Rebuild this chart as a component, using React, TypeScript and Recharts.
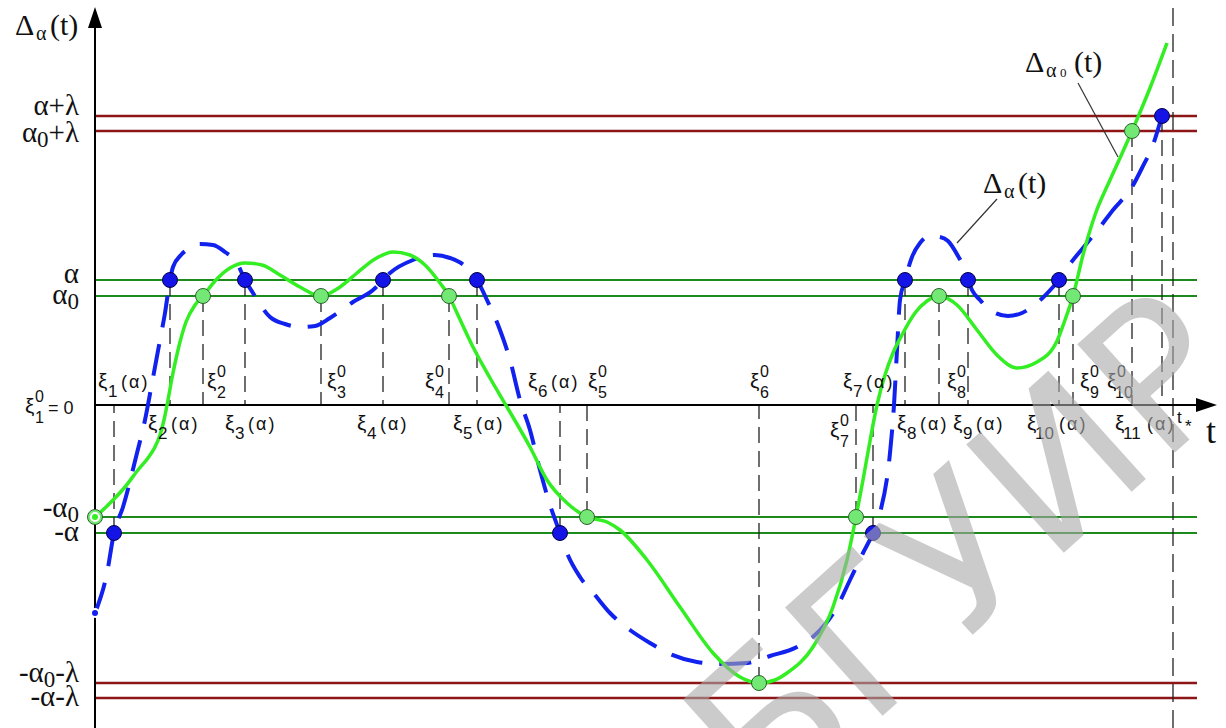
import React from 'react';
import {
  ComposedChart,
  Line,
  Scatter,
  XAxis,
  YAxis,
  ReferenceLine,
  ReferenceDot,
} from 'recharts';

// threshold levels (Δ units, t-axis at 0)
const ALPHA = 125;
const ALPHA0 = 109;
const ALPHA_LAMBDA = 289;
const ALPHA0_LAMBDA = 274;
const NEG_ALPHA0 = -112;
const NEG_ALPHA = -128;
const NEG_ALPHA0_LAMBDA = -278;
const NEG_ALPHA_LAMBDA = -293;
const T_STAR = 1078;
const T_END = 1102;

// Δα0(t) – green solid curve
const GREEN_T = [
  0, 10, 20, 30, 43, 53, 60, 65, 69, 73, 77, 83, 91, 100, 108, 120, 135, 150, 167, 185, 205,
  226, 245, 262, 280, 298, 315, 330, 345, 354, 362, 378, 395, 412, 435, 452, 472, 492, 512,
  525, 552, 585, 618, 645, 664, 680, 692, 718, 738, 752, 761, 768, 775, 782, 790, 798, 808,
  820, 832, 844, 862, 882, 902, 922, 942, 962, 970, 978, 988, 1000, 1015, 1025, 1037, 1055, 1072,
];
const GREEN_D = [
  -112, -103, -93, -82, -65, -53, -42, -30, -15, 5, 27, 55, 83, 100, 109, 124, 137, 142, 140,
  130, 118, 109, 118, 132, 146, 153, 150, 140, 122, 109, 92, 58, 27, -2, -42, -75, -98, -112,
  -117, -125, -155, -202, -248, -272, -278, -275, -268, -242, -202, -155, -112, -75, -36, 0,
  30, 52, 72, 92, 104, 109, 100, 75, 50, 37, 43, 64, 85, 109, 150, 190, 225, 247, 274, 317, 362,
];

// Δα(t) – blue dashed curve
const BLUE_T = [
  0, 12, 19, 28, 42, 50, 57, 65, 70, 75, 78, 86, 95, 105, 118, 130, 142, 150, 158, 175, 190,
  205, 220, 235, 258, 278, 288, 295, 318, 340, 355, 370, 382, 392, 405, 415, 425, 435, 445,
  455, 465, 472, 485, 500, 515, 535, 555, 575, 602, 625, 652, 675, 702, 720, 742, 755, 768,
  778, 785, 795, 799, 802, 805, 810, 817, 825, 835, 845, 853, 863, 870, 873, 877, 885, 895,
  913, 927, 942, 958, 964, 975, 988, 1005, 1018, 1037, 1047, 1059, 1067, 1073,
];
const BLUE_D = [
  -208, -168, -128, -102, -48, -15, 22, 65, 92, 125, 138, 150, 157, 161, 160, 153, 142, 125,
  112, 88, 81, 78, 79, 87, 103, 115, 125, 132, 145, 150, 147, 139, 125, 105, 75, 45, 5, -25,
  -65, -100, -128, -148, -172, -190, -208, -225, -238, -249, -257, -259, -258, -251, -242,
  -230, -202, -175, -148, -128, -108, -48, 0, 55, 105, 125, 148, 162, 169, 168, 164, 149, 135,
  125, 115, 105, 95, 89, 92, 102, 118, 125, 141, 157, 178, 195, 218, 237, 263, 289, 307,
];

// crossing points ξk^0 (green) and ξk(α) (blue)
const XI0_T = [0, 108, 226, 354, 492, 664, 761, 844, 978, 1037];
const XI0_D = [NEG_ALPHA0, ALPHA0, ALPHA0, ALPHA0, NEG_ALPHA0, NEG_ALPHA0_LAMBDA, NEG_ALPHA0, ALPHA0, ALPHA0, ALPHA0_LAMBDA];
const XIA_T = [19, 75, 150, 288, 382, 465, 778, 810, 873, 964, 1067];
const XIA_D = [NEG_ALPHA, ALPHA, ALPHA, ALPHA, ALPHA, NEG_ALPHA, NEG_ALPHA, ALPHA, ALPHA, ALPHA, ALPHA_LAMBDA];

const greenData = GREEN_T.map((t, i) => ({ t, d: GREEN_D[i] }));
const blueData = BLUE_T.map((t, i) => ({ t, d: BLUE_D[i] }));
const greenMarks = XI0_T.map((t, i) => ({ t, d: XI0_D[i] }));
const blueMarks = XIA_T.map((t, i) => ({ t, d: XIA_D[i] }));

const SERIF = '"Liberation Serif", "Times New Roman", serif';
const SANS = '"Liberation Sans", Arial, sans-serif';
const INK = '#111';

// label placement (pixels relative to the crossing point on the t axis)
const XIA_LABEL = [
  { dx: -16, above: true },
  { dx: -22, above: false },
  { dx: -20, above: false },
  { dx: -26, above: false },
  { dx: -24, above: false },
  { dx: -32, above: true },
  { dx: -30, above: true },
  { dx: -8, above: false },
  { dx: -15, above: false },
  { dx: -32, above: false },
  { dx: -47, above: false },
];
const XI0_LABEL = [
  null,
  { dx: 4, above: true },
  { dx: 6, above: true },
  { dx: -24, above: true },
  { dx: 1, above: true },
  { dx: -9, above: true },
  { dx: -26, above: false },
  { dx: 8, above: true },
  { dx: 7, above: true },
  { dx: -25, above: true },
];

type Part = [string, boolean];
const LEVEL_LABELS: { parts: Part[]; level: number; dy: number }[] = [
  { parts: [['α+λ', false]], level: ALPHA_LAMBDA, dy: -1 },
  { parts: [['α', false], ['0', true], ['+λ', false]], level: ALPHA0_LAMBDA, dy: 11 },
  { parts: [['α', false]], level: ALPHA, dy: 3 },
  { parts: [['α', false], ['0', true]], level: ALPHA0, dy: 8 },
  { parts: [['-α', false], ['0', true]], level: NEG_ALPHA0, dy: 0 },
  { parts: [['-α', false]], level: NEG_ALPHA, dy: 8 },
  { parts: [['-α', false], ['0', true], ['-λ', false]], level: NEG_ALPHA0_LAMBDA, dy: -1 },
  { parts: [['-α-λ', false]], level: NEG_ALPHA_LAMBDA, dy: 8 },
];

function Rich({ x, y, parts }: { x: number; y: number; parts: Part[] }) {
  let cur = 0;
  return (
    <text x={x} y={y} textAnchor="end" fontFamily={SERIF} fontSize={29} fill={INK}>
      {parts.map(([s, sub], i) => {
        const target = sub ? 5 : 0;
        const dy = target - cur;
        cur = target;
        return (
          <tspan key={i} dy={dy} fontSize={sub ? 23 : 29}>
            {s}
          </tspan>
        );
      })}
    </text>
  );
}

function DeltaLabel({ x, y, zero }: { x: number; y: number; zero?: boolean }) {
  return (
    <g fontFamily={SERIF} fill={INK}>
      <text x={x} y={y} fontSize={30}>Δ</text>
      <text x={x + 21} y={y + 5} fontSize={20}>α</text>
      {zero && <text x={x + 35} y={y + 5} fontSize={13}>0</text>}
      <text x={x + (zero ? 49 : 35)} y={y} fontSize={30}>(t)</text>
    </g>
  );
}

function XiAlpha({ x, y, n }: { x: number; y: number; n: string }) {
  const two = n.length > 1;
  return (
    <g fontFamily={SANS} fill={INK}>
      <text x={x} y={y} fontSize={21}>ξ</text>
      <text x={x + (two ? 8 : 10)} y={y + 9} fontSize={17}>{n}</text>
      <text x={x + (two ? 32 : 23)} y={y} fontSize={18} letterSpacing={2}>(α)</text>
    </g>
  );
}

function XiZero({ x, y, n }: { x: number; y: number; n: string }) {
  const two = n.length > 1;
  return (
    <g fontFamily={SANS} fill={INK}>
      <text x={x} y={y} fontSize={21}>ξ</text>
      <text x={x + 10} y={y - 11} fontSize={16}>0</text>
      <text x={x + (two ? 8 : 10)} y={y + 10} fontSize={16}>{n}</text>
    </g>
  );
}

const GreenDot = (p: any) => (
  <circle cx={p.cx} cy={p.cy} r={7.5} fill="#74e874" stroke="#2f5f2f" strokeWidth={1} />
);
const BlueDot = (p: any) => (
  <circle cx={p.cx} cy={p.cy} r={7.5} fill="#1414e6" stroke="#00004a" strokeWidth={1} />
);

const RED = '#8e1616';
const GREEN_LINE = '#1c8a1c';
const DROP = { stroke: '#222', strokeWidth: 1.3, strokeDasharray: '16 8' };

export default function App() {
  return (
    <div style={{ position: 'absolute', left: 0, top: 0, width: 1226, height: 728, background: '#fff' }}>
      <ComposedChart width={1226} height={728} margin={{ top: 0, right: 0, bottom: 0, left: 0 }}>
        <XAxis type="number" dataKey="t" domain={[-95, 1131]} allowDataOverflow hide />
        <YAxis type="number" dataKey="d" domain={[-323, 405]} allowDataOverflow hide />

        {/* threshold levels */}
        {[ALPHA_LAMBDA, ALPHA0_LAMBDA, NEG_ALPHA0_LAMBDA, NEG_ALPHA_LAMBDA].map((v) => (
          <ReferenceLine key={'r' + v} segment={[{ x: 0, y: v }, { x: T_END, y: v }]} stroke={RED} strokeWidth={2.5} ifOverflow="visible" />
        ))}
        {[ALPHA, ALPHA0, NEG_ALPHA0, NEG_ALPHA].map((v) => (
          <ReferenceLine key={'g' + v} segment={[{ x: 0, y: v }, { x: T_END, y: v }]} stroke={GREEN_LINE} strokeWidth={2} ifOverflow="visible" />
        ))}

        {/* drop lines from crossing points to the t axis */}
        {greenMarks.filter((m) => m.t > 0).map((m) => (
          <ReferenceLine key={'dg' + m.t} segment={[{ x: m.t, y: m.d }, { x: m.t, y: 0 }]} {...DROP} ifOverflow="visible" />
        ))}
        {blueMarks.map((m) => (
          <ReferenceLine key={'db' + m.t} segment={[{ x: m.t, y: m.d }, { x: m.t, y: 0 }]} {...DROP} ifOverflow="visible" />
        ))}
        <ReferenceLine segment={[{ x: T_STAR, y: -323 }, { x: T_STAR, y: 405 }]} stroke="#222" strokeWidth={1.3} strokeDasharray="18 8" ifOverflow="visible" />

        {/* axes */}
        <ReferenceLine segment={[{ x: 0, y: -323 }, { x: 0, y: 392 }]} stroke="#000" strokeWidth={2} ifOverflow="visible" />
        <ReferenceLine segment={[{ x: 0, y: 0 }, { x: 1108, y: 0 }]} stroke="#000" strokeWidth={2} ifOverflow="visible" />
        <ReferenceDot x={0} y={398} r={0} ifOverflow="visible"
          shape={(p: any) => <polygon points={`${p.cx},${p.cy} ${p.cx - 7},${p.cy + 21} ${p.cx + 7},${p.cy + 21}`} fill="#000" />} />
        <ReferenceDot x={1122} y={0} r={0} ifOverflow="visible"
          shape={(p: any) => <polygon points={`${p.cx},${p.cy} ${p.cx - 21},${p.cy - 7} ${p.cx - 21},${p.cy + 7}`} fill="#000" />} />

        {/* leader lines */}
        <ReferenceLine segment={[{ x: 902, y: 206 }, { x: 862, y: 162 }]} stroke="#333" strokeWidth={1.2} ifOverflow="visible" />
        <ReferenceLine segment={[{ x: 983, y: 322 }, { x: 1023, y: 248 }]} stroke="#333" strokeWidth={1.2} ifOverflow="visible" />

        <Line data={blueData} dataKey="d" type="monotoneX" stroke="#1122ee" strokeWidth={4} strokeDasharray="32 17" dot={false} isAnimationActive={false} />
        <Line data={greenData} dataKey="d" type="monotoneX" stroke="#33ee22" strokeWidth={3.5} dot={false} isAnimationActive={false} />

        <Scatter data={blueMarks} shape={BlueDot} isAnimationActive={false} />
        <Scatter data={greenMarks} shape={GreenDot} isAnimationActive={false} />

        {/* level labels on the left */}
        {LEVEL_LABELS.map((l, i) => (
          <ReferenceDot key={'ll' + i} x={-16} y={l.level} r={0} ifOverflow="visible"
            shape={(p: any) => <Rich x={p.cx} y={p.cy + l.dy} parts={l.parts} />} />
        ))}

        {/* ξ labels */}
        {XIA_T.map((t, i) => (
          <ReferenceDot key={'xa' + i} x={t} y={0} r={0} ifOverflow="visible"
            shape={(p: any) => (
              <XiAlpha x={p.cx + XIA_LABEL[i].dx} y={p.cy + (XIA_LABEL[i].above ? -17 : 25)} n={String(i + 1)} />
            )} />
        ))}
        {XI0_T.map((t, i) =>
          XI0_LABEL[i] ? (
            <ReferenceDot key={'x0' + i} x={t} y={0} r={0} ifOverflow="visible"
              shape={(p: any) => (
                <XiZero x={p.cx + XI0_LABEL[i]!.dx} y={p.cy + (XI0_LABEL[i]!.above ? -17 : 32)} n={String(i + 1)} />
              )} />
          ) : null
        )}
        <ReferenceDot x={0} y={0} r={0} ifOverflow="visible"
          shape={(p: any) => (
            <g fontFamily={SANS} fill={INK}>
              <XiZero x={p.cx - 70} y={p.cy + 8} n="1" />
              <text x={p.cx - 47} y={p.cy + 9} fontSize={18}>= 0</text>
            </g>
          )} />
        <ReferenceDot x={T_STAR} y={0} r={0} ifOverflow="visible"
          shape={(p: any) => (
            <g fontFamily={SANS} fill={INK}>
              <text x={p.cx + 4} y={p.cy + 18} fontSize={17}>t</text>
              <text x={p.cx + 12} y={p.cy + 27} fontSize={17}>*</text>
            </g>
          )} />
        <ReferenceDot x={1111} y={0} r={0} ifOverflow="visible"
          shape={(p: any) => <text x={p.cx} y={p.cy + 38} fontFamily={SERIF} fontSize={36} fill={INK}>t</text>} />

        {/* curve names */}
        <ReferenceDot x={0} y={405} r={0} ifOverflow="visible"
          shape={(p: any) => <DeltaLabel x={p.cx - 80} y={p.cy + 35} />} />
        <ReferenceDot x={930} y={333} r={0} ifOverflow="visible"
          shape={(p: any) => <DeltaLabel x={p.cx} y={p.cy} zero />} />
        <ReferenceDot x={888} y={212} r={0} ifOverflow="visible"
          shape={(p: any) => <DeltaLabel x={p.cx} y={p.cy} />} />

        {/* watermark */}
        <ReferenceDot x={913} y={-198} r={0} ifOverflow="visible"
          shape={(p: any) => (
            <text x={p.cx} y={p.cy} transform={`rotate(-42 ${p.cx} ${p.cy})`} textAnchor="middle"
              fontFamily='"DejaVu Sans", sans-serif' fontSize={200} fill="#a8a8a8" fillOpacity={0.6}>
              БГУИР
            </text>
          )} />
      </ComposedChart>
    </div>
  );
}
